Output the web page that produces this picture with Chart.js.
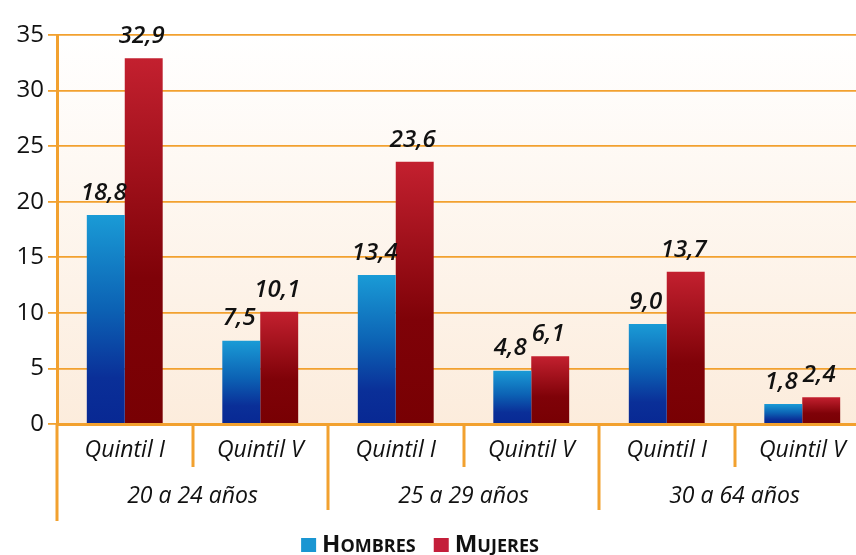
<!DOCTYPE html>
<html>
<head>
<meta charset="utf-8">
<script src="https://cdn.jsdelivr.net/npm/chart.js@4.4.1/dist/chart.umd.min.js"></script>
<style>
  html, body { margin: 0; padding: 0; background: #fff; overflow: hidden; }
  #wrap { width: 870px; height: 555px; }
</style>
</head>
<body>
<div id="wrap"><canvas id="chart" width="870" height="555"></canvas></div>
<script>
// values
const categories = ['Quintil I', 'Quintil V', 'Quintil I', 'Quintil V', 'Quintil I', 'Quintil V'];
const groups = ['20 a 24 años', '25 a 29 años', '30 a 64 años'];
const hombres = [18.8, 7.5, 13.4, 4.8, 9.0, 1.8];
const mujeres = [32.9, 10.1, 23.6, 6.1, 13.7, 2.4];
const yMax = 35;
const yStep = 5;

const ORANGE = '#f2a12f';
const FONT = "'Open Sans', 'Noto Sans', sans-serif";

function barGradient(stops, solid) {
  return function (c) {
    if (c.type !== 'data' || !c.chart.chartArea) return solid;
    const y = c.chart.scales.y;
    const top = y.getPixelForValue(c.raw);
    const bot = y.getPixelForValue(0);
    const g = c.chart.ctx.createLinearGradient(0, top, 0, bot);
    stops.forEach(s => g.addColorStop(s[0], s[1]));
    return g;
  };
}

// plot background: white on top, soft peach at the bottom
const bgPlugin = {
  id: 'bg',
  beforeDraw(chart) {
    const a = chart.chartArea, ctx = chart.ctx;
    const g = ctx.createLinearGradient(0, a.top, 0, a.bottom);
    g.addColorStop(0, '#ffffff');
    g.addColorStop(1, '#fcecdc');
    ctx.save();
    ctx.fillStyle = g;
    ctx.fillRect(a.left, a.top, a.right - a.left, a.bottom - a.top);
    ctx.restore();
  }
};

// values above bars
const valuePlugin = {
  id: 'values',
  afterDatasetsDraw(chart) {
    const ctx = chart.ctx;
    ctx.save();
    ctx.font = "italic 600 24px " + FONT;
    ctx.fillStyle = '#111';
    ctx.textAlign = 'center';
    ctx.textBaseline = 'bottom';
    chart.data.datasets.forEach((ds, i) => {
      chart.getDatasetMeta(i).data.forEach((el, j) => {
        ctx.fillText(ds.data[j].toFixed(1).replace('.', ','), el.x - 2, el.y - 10);
      });
    });
    ctx.restore();
  }
};

// separators under the axis and the age group labels
const groupPlugin = {
  id: 'groups',
  afterDraw(chart) {
    const ctx = chart.ctx, x = chart.scales.x, a = chart.chartArea;
    ctx.save();
    ctx.strokeStyle = ORANGE;
    ctx.lineWidth = 3;
    ctx.beginPath();
    ctx.moveTo(a.left, a.bottom);
    ctx.lineTo(a.left, a.bottom + 97);
    for (let i = 1; i < categories.length; i++) {
      const px = Math.round((x.getPixelForValue(i - 1) + x.getPixelForValue(i)) / 2);
      const len = i % 2 === 0 ? 86 : 43;
      ctx.moveTo(px, a.bottom);
      ctx.lineTo(px, a.bottom + len);
    }
    ctx.stroke();
    ctx.font = "italic 23px " + FONT;
    ctx.fillStyle = '#111';
    ctx.textAlign = 'center';
    ctx.textBaseline = 'middle';
    groups.forEach((g, k) => {
      const cx = (x.getPixelForValue(2 * k) + x.getPixelForValue(2 * k + 1)) / 2;
      ctx.fillText(g, cx, a.bottom + 72);
    });
    ctx.restore();
  }
};

// legend with small caps (first letter big, the rest smaller capitals)
const legendPlugin = {
  id: 'scLegend',
  afterDraw(chart) {
    const ctx = chart.ctx;
    const big = "700 24px " + FONT, small = "700 18px " + FONT;
    const box = 15, gapBox = 6, gapItem = 18, cy = 545;
    const items = chart.data.datasets.map(ds => {
      const t = ds.label.toUpperCase();
      ctx.font = big; const w1 = ctx.measureText(t[0]).width;
      ctx.font = small; const w2 = ctx.measureText(t.slice(1)).width;
      return { t, w1, w2, color: ds.legendColor, w: box + gapBox + w1 + w2 };
    });
    const total = items.reduce((s, it) => s + it.w, 0) + gapItem * (items.length - 1);
    let x = chart.width / 2 - 15 - total / 2;
    ctx.save();
    ctx.textBaseline = 'alphabetic';
    items.forEach(it => {
      ctx.fillStyle = it.color;
      ctx.fillRect(x, cy - 7, box, box - 1);
      const tx = x + box + gapBox;
      ctx.fillStyle = '#111';
      ctx.font = big; ctx.fillText(it.t[0], tx, cy + 7);
      ctx.font = small; ctx.fillText(it.t.slice(1), tx + it.w1, cy + 7);
      x += it.w + gapItem;
    });
    ctx.restore();
  }
};

new Chart(document.getElementById('chart'), {
  type: 'bar',
  data: {
    labels: categories,
    datasets: [
      {
        label: 'Hombres',
        data: hombres,
        legendColor: '#1a96d2',
        backgroundColor: barGradient([[0, '#1a9bd6'], [0.45, '#0c62b4'], [0.78, '#0a2f98'], [1, '#082893']], '#1a96d2')
      },
      {
        label: 'Mujeres',
        data: mujeres,
        legendColor: '#c41e3a',
        backgroundColor: barGradient([[0, '#c3202f'], [0.6, '#7f0208'], [1, '#780003']], '#c41e3a')
      }
    ]
  },
  options: {
    responsive: false,
    animation: false,
    layout: { padding: { top: 35, right: 0, left: 0, bottom: 31 } },
    datasets: {
      bar: { categoryPercentage: 0.56, barPercentage: 1, borderWidth: 0 }
    },
    scales: {
      x: {
        grid: { display: false },
        border: { display: true, color: ORANGE, width: 3 },
        ticks: {
          color: '#111',
          padding: 5,
          font: { family: FONT, size: 23, style: 'italic' }
        },
        afterFit(s) { s.height = 100; }
      },
      y: {
        min: 0,
        max: yMax,
        ticks: {
          stepSize: yStep,
          color: '#111',
          padding: 4,
          font: { family: FONT, size: 24 }
        },
        grid: { color: ORANGE, lineWidth: 1.8, tickLength: 9, tickColor: ORANGE, tickWidth: 1.8 },
        border: { display: true, color: ORANGE, width: 3 },
        afterFit(s) { s.width = 57; }
      }
    },
    plugins: {
      tooltip: { enabled: false },
      legend: { display: false }
    }
  },
  plugins: [bgPlugin, valuePlugin, groupPlugin, legendPlugin]
});
</script>
</body>
</html>
